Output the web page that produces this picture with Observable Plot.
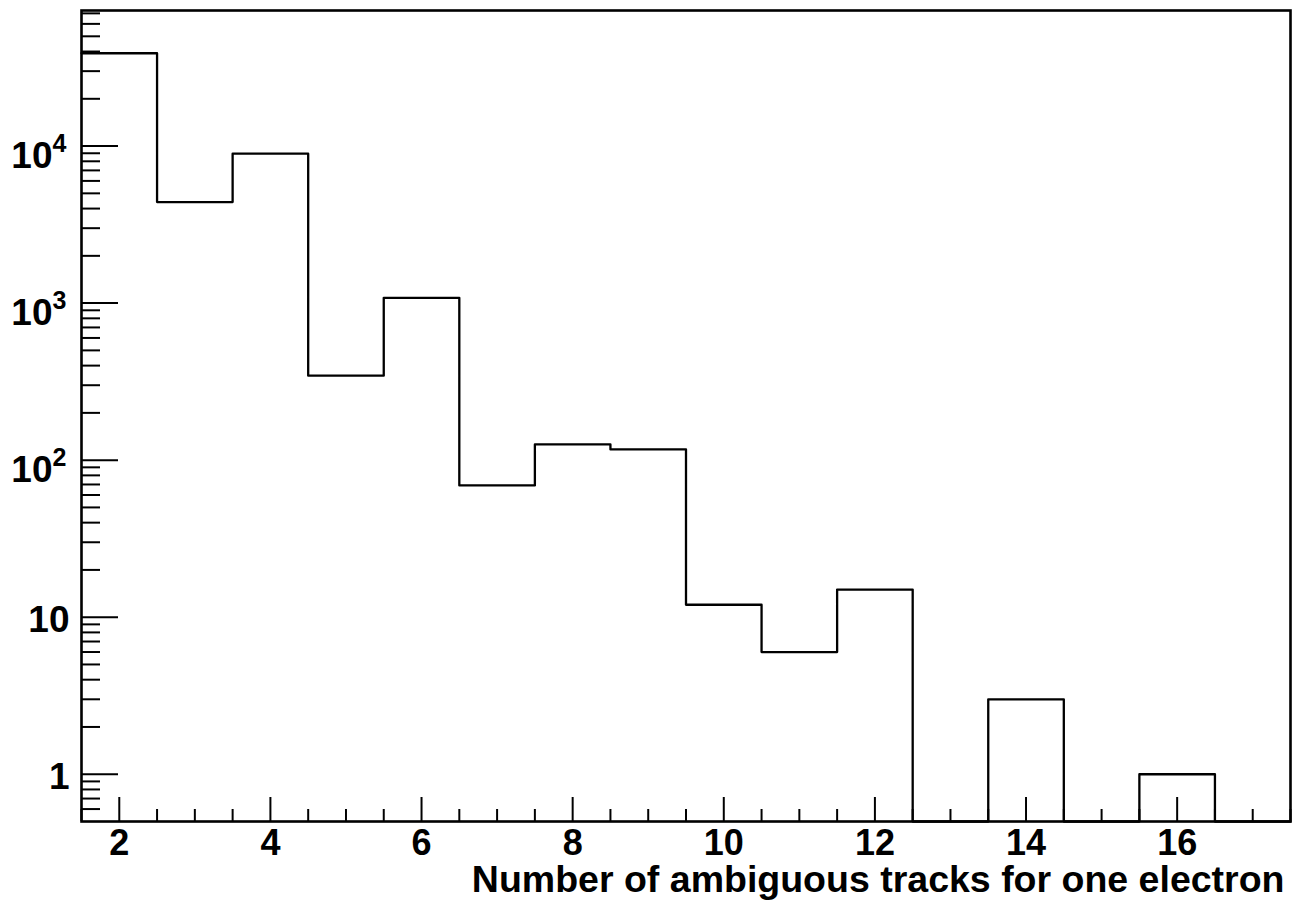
<!DOCTYPE html>
<html>
<head>
<meta charset="utf-8">
<script src="https://cdn.jsdelivr.net/npm/d3@7"></script>
<script src="https://cdn.jsdelivr.net/npm/@observablehq/plot@0.6"></script>
<style>
  html, body { margin: 0; padding: 0; background: #fff; }
  #chart svg { display: block; }
</style>
</head>
<body>
<div id="chart"></div>
<script>
// Histogram bins (bin centres) and counts
const binCenters = [2, 3, 4, 5, 6, 7, 8, 9, 10, 11, 12, 13, 14, 15, 16, 17];
const counts = [39000, 4400, 8950, 345, 1080, 69, 126, 117, 12, 6, 15, 0, 3, 0, 1, 0];
const binWidth = 1;

// Axis ticks and labels
const xMajorTicks = [2, 4, 6, 8, 10, 12, 14, 16];
const xMinorTicks = d3.range(1.5, 17.51, 0.5).filter(v => !xMajorTicks.includes(v));
const yDecades = [1, 10, 100, 1000, 10000];
const yLabelBases = ["1", "10", "10", "10", "10"];
const yLabelExps = ["", "", "2", "3", "4"];
const yMinorTicks = [0.6, 0.7, 0.8, 0.9,
  2, 3, 4, 5, 6, 7, 8, 9,
  20, 30, 40, 50, 60, 70, 80, 90,
  200, 300, 400, 500, 600, 700, 800, 900,
  2000, 3000, 4000, 5000, 6000, 7000, 8000, 9000,
  20000, 30000, 40000, 50000, 60000, 70000];
const xDomain = [1.5, 17.5];
const yDomain = [0.5, 73000];
const xTitle = "Number of ambiguous tracks for one electron";

// Outline path of the histogram (step-after through bin lower edges)
const yFloor = yDomain[0];
const outline = binCenters.map((c, i) => ({x: c - binWidth / 2, y: counts[i] > 0 ? counts[i] : yFloor}));
outline.push({x: binCenters[binCenters.length - 1] + binWidth / 2, y: outline[outline.length - 1].y});

const W = 1292, H = 903;
const mL = 81, mR = 2, mT = 10, mB = 82;
const frameW = W - mL - mR, frameH = H - mT - mB;

const labelData = yDecades.map((v, i) => ({v, base: yLabelBases[i], exp: yLabelExps[i]}));
const font = "'Liberation Sans', Arial, Helvetica, sans-serif";

const chart = Plot.plot({
  width: W,
  height: H,
  marginLeft: mL,
  marginRight: mR,
  marginTop: mT,
  marginBottom: mB,
  style: {fontFamily: font, background: "#fff", color: "#000"},
  x: {domain: xDomain, axis: null},
  y: {type: "log", domain: yDomain, axis: null},
  marks: [
    // Y ticks (inward)
    Plot.tickY(yDecades, {y: d => d, stroke: "#000", strokeWidth: 2, insetRight: frameW - 37}),
    Plot.tickY(yMinorTicks, {y: d => d, stroke: "#000", strokeWidth: 2, insetRight: frameW - 19}),
    // X ticks (inward)
    Plot.tickX(xMajorTicks, {x: d => d, stroke: "#000", strokeWidth: 2, insetTop: frameH - 24}),
    Plot.tickX(xMinorTicks, {x: d => d, stroke: "#000", strokeWidth: 2, insetTop: frameH - 12}),
    // Histogram outline
    Plot.line(outline, {x: "x", y: "y", curve: "step-after", stroke: "#000", strokeWidth: 2.3}),
    Plot.frame({stroke: "#000", strokeWidth: 2.6}),
    // X tick labels
    Plot.text(xMajorTicks, {x: d => d, frameAnchor: "bottom", dy: 22, text: d => String(d),
      fontSize: 36, fontWeight: "bold", lineAnchor: "middle", fill: "#000"}),
    // Y tick labels: plain
    Plot.text(labelData.filter(d => !d.exp), {y: "v", frameAnchor: "left", dx: -12, dy: 3, text: "base",
      textAnchor: "end", fontSize: 37, fontWeight: "bold", lineAnchor: "middle", fill: "#000"}),
    // Y tick labels: power base
    Plot.text(labelData.filter(d => d.exp), {y: "v", frameAnchor: "left", dx: -29, dy: 10, text: "base",
      textAnchor: "end", fontSize: 37, fontWeight: "bold", lineAnchor: "middle", fill: "#000"}),
    // Y tick labels: exponent
    Plot.text(labelData.filter(d => d.exp), {y: "v", frameAnchor: "left", dx: -29, dy: -2, text: "exp",
      textAnchor: "start", fontSize: 25, fontWeight: "bold", lineAnchor: "middle", fill: "#000"}),
    // X axis title
    Plot.text([xTitle], {frameAnchor: "bottom-right", dx: -6, dy: 70, text: d => d,
      textAnchor: "end", fontSize: 37.5, fontWeight: "bold", lineAnchor: "bottom", fill: "#000"})
  ]
});

document.getElementById("chart").appendChild(chart);
</script>
</body>
</html>
